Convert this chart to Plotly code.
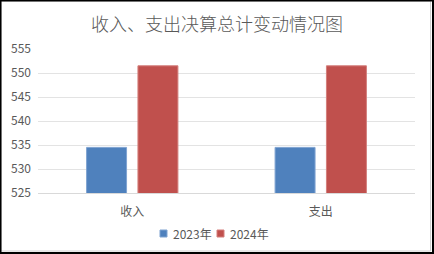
import plotly.graph_objects as go

categories = ["收入", "支出"]
series_names = ["2023年", "2024年"]
values_2023 = [534.5, 534.5]
values_2024 = [551.5, 551.5]
colors = ["#4F81BD", "#C0504D"]
edge_colors = ["#7FA3D1", "#D47F7C"]
y_ticks = [525, 530, 535, 540, 545, 550, 555]

W, H = 434, 254
L, R, T, B = 38, 19, 49, 61
PW, PH = W - L - R, H - T - B

def px(x):
    return (x - L) / PW

def py(y):
    return (H - B - y) / PH

fig = go.Figure()
for name, vals, c, ec in zip(series_names, [values_2023, values_2024], colors, edge_colors):
    fig.add_trace(go.Bar(x=categories, y=vals, name=name, showlegend=False,
                         marker=dict(color=c, line=dict(color=ec, width=1))))

font = "Microsoft YaHei, Noto Sans CJK SC, sans-serif"

# legend drawn as key squares + text, laid out like the reference
legend_key_x = [160, 217]
shapes = []
annotations = []
for name, c, ec, kx in zip(series_names, colors, edge_colors, legend_key_x):
    shapes.append(dict(type="rect", xref="paper", yref="paper",
                       x0=px(kx), x1=px(kx + 7), y0=py(237), y1=py(230),
                       fillcolor=c, line=dict(color=ec, width=1)))
    annotations.append(dict(text=name, xref="paper", yref="paper",
                            x=px(kx + 11), y=py(233.5), xanchor="left", yanchor="middle",
                            showarrow=False, font=dict(family=font, size=12, color="#595959")))

shapes += [
    dict(type="rect", xref="paper", yref="paper",
         x0=px(1), x1=px(430.5), y0=py(1), y1=py(251),
         line=dict(color="#D0D0D0", width=1), fillcolor="rgba(0,0,0,0)"),
    dict(type="rect", xref="paper", yref="paper",
         x0=px(0.5), x1=px(433), y0=py(0.5), y1=py(253),
         line=dict(color="#000000", width=2), fillcolor="rgba(0,0,0,0)"),
]

fig.update_layout(
    width=W, height=H,
    margin=dict(l=L, r=R, t=T, b=B),
    paper_bgcolor="white", plot_bgcolor="white",
    barmode="group", bargap=0.455, bargroupgap=0.222,
    title=dict(text="收入、支出决算总计变动情况图", x=0.5, xanchor="center",
               y=1 - 25 / H, yanchor="middle",
               font=dict(family=font, size=18, color="#595959", weight=300)),
    font=dict(family=font, size=12, color="#595959"),
    showlegend=False,
    xaxis=dict(showline=True, linecolor="#D9D9D9", linewidth=1, ticks="",
               ticklabelstandoff=8,
               tickfont=dict(size=12, color="#595959"), showgrid=False),
    yaxis=dict(range=[525, 555], tickvals=y_ticks, showgrid=True, gridcolor="#E3E3E3",
               gridwidth=1, zeroline=False, showline=False, ticks="",
               ticklabelstandoff=6,
               tickfont=dict(size=12, color="#595959")),
    shapes=shapes,
    annotations=annotations,
)

fig.write_html("out.html")
